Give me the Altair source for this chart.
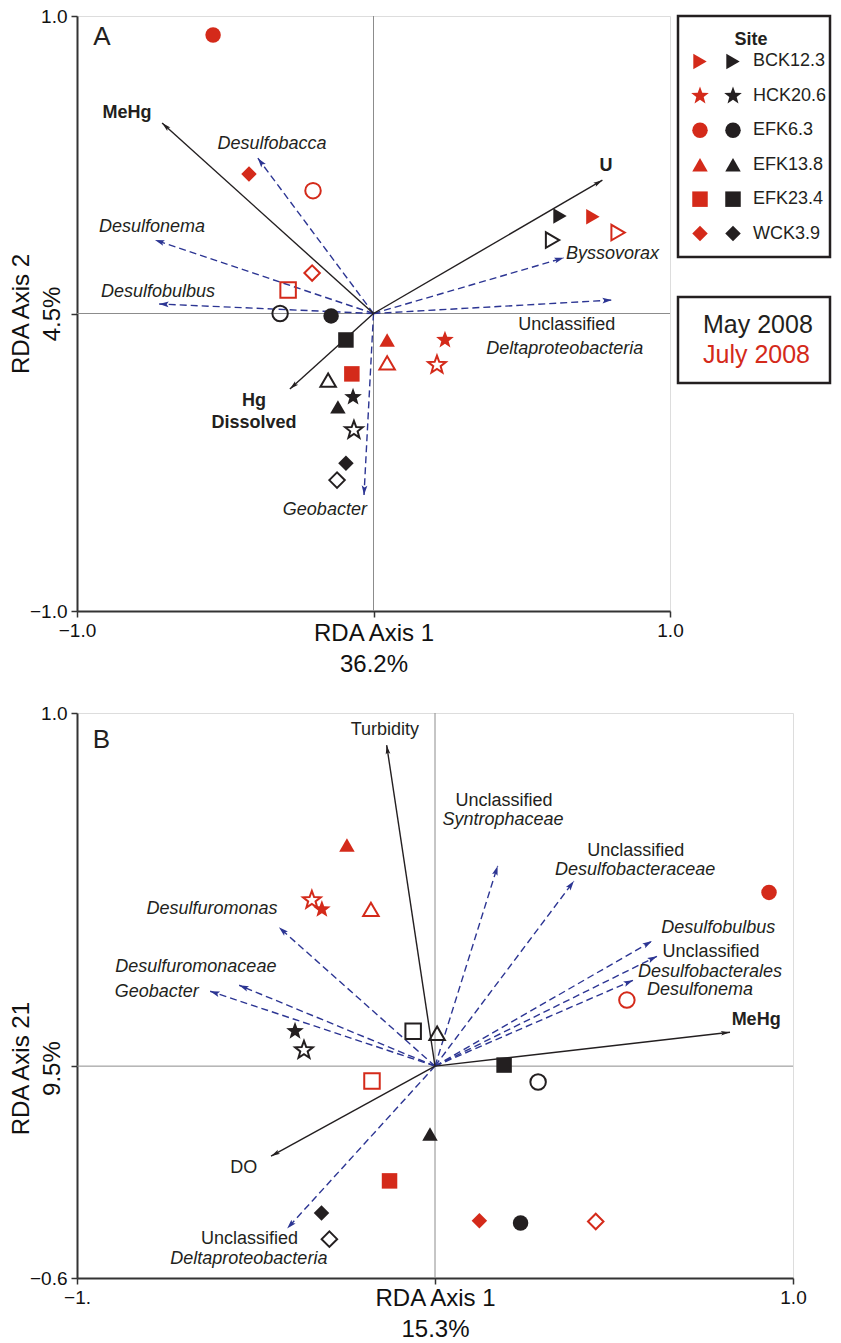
import math
import altair as alt
import pandas as pd

# ---------------- categories ----------------
SITES = ["BCK12.3", "HCK20.6", "EFK6.3", "EFK13.8", "EFK23.4", "WCK3.9"]
MONTHS = ["May 2008", "July 2008"]
HEADER = ["Site"]

# ---------------- Panel A samples ----------------
A_SITE = ["EFK6.3", "WCK3.9", "EFK6.3", "WCK3.9", "EFK23.4", "EFK6.3", "EFK6.3", "EFK23.4",
          "EFK23.4", "EFK13.8", "HCK20.6", "EFK13.8", "HCK20.6", "WCK3.9", "WCK3.9", "EFK13.8",
          "EFK13.8", "HCK20.6", "HCK20.6", "BCK12.3", "BCK12.3", "BCK12.3", "BCK12.3"]
A_MONTH = ["July 2008", "July 2008", "July 2008", "July 2008", "July 2008", "May 2008", "May 2008", "May 2008",
           "July 2008", "May 2008", "May 2008", "May 2008", "May 2008", "May 2008", "May 2008", "July 2008",
           "July 2008", "July 2008", "July 2008", "May 2008", "May 2008", "July 2008", "July 2008"]
A_FILL = ["filled", "filled", "open", "open", "open", "open", "filled", "filled",
          "filled", "open", "filled", "filled", "open", "filled", "open", "filled",
          "open", "filled", "open", "filled", "open", "filled", "open"]
A_X = [-0.541, -0.420, -0.204, -0.207, -0.288, -0.315, -0.143, -0.093,
       -0.073, -0.153, -0.069, -0.120, -0.066, -0.093, -0.123, 0.046,
       0.046, 0.241, 0.214, 0.629, 0.604, 0.740, 0.825]
A_Y = [0.936, 0.469, 0.413, 0.136, 0.079, 0.000, -0.008, -0.089,
       -0.203, -0.224, -0.281, -0.314, -0.392, -0.503, -0.560, -0.089,
       -0.166, -0.089, -0.173, 0.328, 0.247, 0.325, 0.272]

# Panel A vectors
A_VEC_NAME = ["MeHg", "U", "Hg Dissolved", "Desulfobacca", "Desulfonema", "Desulfobulbus",
              "Byssovorax", "Unclassified Deltaproteobacteria", "Geobacter"]
A_VEC_KIND = ["env", "env", "env", "taxon", "taxon", "taxon", "taxon", "taxon", "taxon"]
A_VEC_X = [-0.713, 0.772, -0.282, -0.390, -0.737, -0.723, 0.642, 0.804, -0.032]
A_VEC_Y = [0.640, 0.448, -0.254, 0.522, 0.247, 0.032, 0.187, 0.045, -0.610]

# Panel A labels (anchors in axis units)
A_LAB_TEXT = ["MeHg", "U", "Hg", "Dissolved", "Desulfobacca", "Desulfonema", "Desulfobulbus",
              "Byssovorax", "Unclassified", "Deltaproteobacteria", "Geobacter", "A"]
A_LAB_STYLE = ["bold", "bold", "bold", "bold", "italic", "italic", "italic",
               "italic", "normal", "italic", "italic", "letter"]
A_LAB_X = [-0.831, 0.784, -0.403, -0.403, -0.342, -0.747, -0.727, 0.806, 0.652, 0.645, -0.164, -0.916]
A_LAB_Y = [0.674, 0.496, -0.294, -0.368, 0.570, 0.291, 0.072, 0.200, -0.040, -0.119, -0.661, 0.928]

# ---------------- Panel B samples ----------------
B_SITE = ["EFK6.3", "EFK6.3", "EFK13.8", "HCK20.6", "HCK20.6", "EFK13.8", "EFK23.4", "EFK13.8",
          "HCK20.6", "HCK20.6", "EFK23.4", "EFK23.4", "EFK6.3", "EFK13.8", "EFK23.4", "WCK3.9",
          "WCK3.9", "WCK3.9", "EFK6.3", "WCK3.9"]
B_MONTH = ["July 2008", "July 2008", "July 2008", "July 2008", "July 2008", "July 2008", "May 2008", "May 2008",
           "May 2008", "May 2008", "July 2008", "May 2008", "May 2008", "May 2008", "July 2008", "May 2008",
           "May 2008", "July 2008", "May 2008", "July 2008"]
B_FILL = ["filled", "open", "filled", "open", "filled", "open", "open", "open",
          "filled", "open", "open", "filled", "open", "filled", "filled", "filled",
          "open", "filled", "filled", "open"]
B_X = [0.933, 0.536, -0.246, -0.344, -0.316, -0.179, -0.061, 0.006,
       -0.391, -0.366, -0.176, 0.193, 0.288, -0.014, -0.127, -0.317,
       -0.295, 0.124, 0.239, 0.449]
B_Y = [0.492, 0.187, 0.626, 0.470, 0.444, 0.444, 0.099, 0.093,
       0.099, 0.045, -0.042, 0.003, -0.045, -0.192, -0.325, -0.416,
       -0.490, -0.438, -0.444, -0.440]

# Panel B vectors
B_VEC_NAME = ["Turbidity", "MeHg", "DO", "Unclassified Syntrophaceae", "Unclassified Desulfobacteraceae",
              "Desulfobulbus", "Unclassified Desulfobacterales", "Desulfonema", "Desulfuromonas",
              "Desulfuromonaceae", "Geobacter", "Unclassified Deltaproteobacteria"]
B_VEC_KIND = ["env", "env", "env", "taxon", "taxon", "taxon", "taxon", "taxon", "taxon",
              "taxon", "taxon", "taxon"]
B_VEC_X = [-0.135, 0.824, -0.458, 0.175, 0.388, 0.606, 0.620, 0.553, -0.436, -0.547, -0.628, -0.413]
B_VEC_Y = [0.909, 0.096, -0.255, 0.567, 0.524, 0.354, 0.311, 0.243, 0.393, 0.229, 0.212, -0.460]

# Panel B labels (anchors in axis units)
B_LAB_TEXT = ["Turbidity", "MeHg", "DO", "Unclassified", "Syntrophaceae", "Unclassified",
              "Desulfobacteraceae", "Desulfobulbus", "Unclassified", "Desulfobacterales", "Desulfonema",
              "Desulfuromonas", "Desulfuromonaceae", "Geobacter", "Unclassified", "Deltaproteobacteria", "B"]
B_LAB_STYLE = ["normal", "bold", "normal", "normal", "italic", "normal",
               "italic", "italic", "normal", "italic", "italic",
               "italic", "italic", "italic", "normal", "italic", "letter"]
B_LAB_X = [-0.140, 0.897, -0.534, 0.193, 0.190, 0.561, 0.559, 0.791, 0.771, 0.768, 0.740,
           -0.623, -0.668, -0.777, -0.518, -0.520, -0.932]
B_LAB_Y = [0.951, 0.130, -0.289, 0.750, 0.696, 0.609, 0.555, 0.391, 0.323, 0.266, 0.215,
           0.444, 0.280, 0.209, -0.490, -0.546, 0.923]

# ---------------- styling ----------------
RED = "#d42a1a"
BLACK = "#231f20"
BLUE = "#2c3593"
GREY = "#8c8c8c"
FONT = "Liberation Sans"
PT_SIZE = 240
LAB_SIZE = 18
LEG_W = 152


def star_path(r_out=1.2, r_in=0.5):
    pts = []
    for k in range(10):
        ang = math.radians(-90 + 36 * k)
        r = r_out if k % 2 == 0 else r_in
        pts.append(f"{r * math.cos(ang):.3f},{r * math.sin(ang):.3f}")
    return "M" + "L".join(pts) + "Z"


STAR = star_path()
SHAPES = ["triangle-right", STAR, "circle", "triangle-up", "square", "diamond"]
HEAD_BLACK = "M0,0L-1,-0.26L-0.8,0L-1,0.26Z"
HEAD_BLUE = "M0,0L-1,-0.3L-0.8,0L-1,0.3Z"

shape_scale = alt.Scale(domain=SITES, range=SHAPES)
color_scale = alt.Scale(domain=MONTHS, range=[BLACK, RED])


def make_axis(values, expr, title, title_pos, orient):
    common = dict(values=values, labelExpr=expr, title=title, grid=False, labelFlush=False,
                  labelOverlap=False, labelFontSize=19, labelFont=FONT, labelColor="#111",
                  titleFontSize=24, titleFont=FONT, titleFontWeight="normal", titleColor="#111",
                  titleLineHeight=31, tickSize=6, tickWidth=1.5, tickColor="#333",
                  domainColor="#333", domainWidth=2)
    if orient == "x":
        return alt.Axis(titleY=title_pos, titleBaseline="top", labelPadding=4, **common)
    return alt.Axis(titleX=-44, titleY=title_pos, titleAngle=270, titleAlign="center",
                    titleBaseline="bottom", labelPadding=4, **common)


def panel(pts, vecs, labs, xdom, ydom, w, h, ax_x, ax_y):
    xs = alt.Scale(domain=xdom, nice=False, zero=False)
    ys = alt.Scale(domain=ydom, nice=False, zero=False)
    sx = w / (xdom[1] - xdom[0])
    sy = h / (ydom[1] - ydom[0])
    vecs = vecs.copy()
    vecs["x0"] = 0.0
    vecs["y0"] = 0.0
    vecs["ang"] = [(math.degrees(math.atan2(-yy * sy, xx * sx)) + 360) % 360
                   for xx, yy in zip(vecs["x"], vecs["y"])]

    X = lambda f: alt.X(f, scale=xs, axis=ax_x)
    Y = lambda f: alt.Y(f, scale=ys, axis=ax_y)

    zero = pd.DataFrame({"v": [0.0]})
    zv = alt.Chart(zero).mark_rule(color=GREY, strokeWidth=1).encode(x=X("v:Q"))
    zh = alt.Chart(zero).mark_rule(color=GREY, strokeWidth=1).encode(y=Y("v:Q"))

    vb = alt.Chart(vecs)
    tax = vb.transform_filter("datum.kind == 'taxon'")
    env = vb.transform_filter("datum.kind == 'env'")
    tax_line = tax.mark_rule(color=BLUE, strokeWidth=1.4, strokeDash=[7, 4]).encode(
        x=X("x0:Q"), y=Y("y0:Q"), x2="x:Q", y2="y:Q")
    env_line = env.mark_rule(color=BLACK, strokeWidth=1.4).encode(
        x=X("x0:Q"), y=Y("y0:Q"), x2="x:Q", y2="y:Q")
    tax_head = tax.mark_point(shape=HEAD_BLUE, filled=True, size=360, color=BLUE, opacity=1).encode(
        x=X("x:Q"), y=Y("y:Q"), angle=alt.Angle("ang:Q", scale=None))
    env_head = env.mark_point(shape=HEAD_BLACK, filled=True, size=330, color=BLACK, opacity=1).encode(
        x=X("x:Q"), y=Y("y:Q"), angle=alt.Angle("ang:Q", scale=None))

    lb = alt.Chart(labs).encode(x=X("x:Q"), y=Y("y:Q"), text="text:N")
    t_norm = lb.transform_filter("datum.style == 'normal'").mark_text(
        font=FONT, fontSize=LAB_SIZE, color=BLACK, baseline="middle")
    t_ital = lb.transform_filter("datum.style == 'italic'").mark_text(
        font=FONT, fontSize=LAB_SIZE, fontStyle="italic", color=BLACK, baseline="middle")
    t_bold = lb.transform_filter("datum.style == 'bold'").mark_text(
        font=FONT, fontSize=LAB_SIZE, fontWeight="bold", color=BLACK, baseline="middle")
    t_let = lb.transform_filter("datum.style == 'letter'").mark_text(
        font=FONT, fontSize=26, color=BLACK, baseline="middle")

    pb = alt.Chart(pts).encode(
        x=X("x:Q"), y=Y("y:Q"),
        shape=alt.Shape("site:N", scale=shape_scale, legend=None),
        color=alt.Color("month:N", scale=color_scale, legend=None))
    p_fill = pb.transform_filter("datum.fill == 'filled'").mark_point(filled=True, size=PT_SIZE, opacity=1)
    p_open = pb.transform_filter("datum.fill == 'open'").mark_point(
        filled=False, size=PT_SIZE, strokeWidth=2, opacity=1)

    return alt.layer(zv, zh, tax_line, env_line, tax_head, env_head,
                     t_norm, t_ital, t_bold, t_let, p_fill, p_open).properties(width=w, height=h)


ptsA = pd.DataFrame({"site": A_SITE, "month": A_MONTH, "fill": A_FILL, "x": A_X, "y": A_Y})
vecA = pd.DataFrame({"name": A_VEC_NAME, "kind": A_VEC_KIND, "x": A_VEC_X, "y": A_VEC_Y})
labA = pd.DataFrame({"text": A_LAB_TEXT, "style": A_LAB_STYLE, "x": A_LAB_X, "y": A_LAB_Y})
ptsB = pd.DataFrame({"site": B_SITE, "month": B_MONTH, "fill": B_FILL, "x": B_X, "y": B_Y})
vecB = pd.DataFrame({"name": B_VEC_NAME, "kind": B_VEC_KIND, "x": B_VEC_X, "y": B_VEC_Y})
labB = pd.DataFrame({"text": B_LAB_TEXT, "style": B_LAB_STYLE, "x": B_LAB_X, "y": B_LAB_Y})

WA, HA = 593, 595
WB, HB = 716, 565

axAx = make_axis([-1, 0, 1], "datum.value == 0 ? '' : format(datum.value, '.1f')",
                 ["RDA Axis 1", "36.2%"], 10, "x")
axAy = make_axis([-1, 0, 1], "datum.value == 0 ? '' : format(datum.value, '.1f')",
                 ["RDA Axis 2", "4.5%"], HA / 2, "y")
axBx = make_axis([-1, 0, 1], "datum.value == -1 ? '\u22121.' : (datum.value == 1 ? '1.0' : '')",
                 ["RDA Axis 1", "15.3%"], 8, "x")
axBy = make_axis([-0.6, 0, 1], "datum.value == 0 ? '' : format(datum.value, '.1f')",
                 ["RDA Axis 21", "9.5%"], HB * 1.0 / 1.6 + 2, "y")

chartA = panel(ptsA, vecA, labA, [-1, 1], [-1, 1], WA, HA, axAx, axAy)
chartB = panel(ptsB, vecB, labB, [-1, 1], [-0.6, 1], WB, HB, axBx, axBy)

# ---------------- legends ----------------
leg = pd.DataFrame({"site": SITES})
yL = alt.Scale(type="point", domain=SITES, padding=1.174, align=0.66)
lbase = alt.Chart(leg).encode(
    y=alt.Y("site:N", scale=yL, axis=None),
    shape=alt.Shape("site:N", scale=shape_scale, legend=None))
l_red = lbase.mark_point(filled=True, size=PT_SIZE, color=RED, opacity=1).encode(x=alt.value(22))
l_blk = lbase.mark_point(filled=True, size=PT_SIZE, color=BLACK, opacity=1).encode(x=alt.value(55))
l_txt = alt.Chart(leg).mark_text(align="left", baseline="middle", font=FONT, fontSize=18, color=BLACK).encode(
    x=alt.value(75), y=alt.Y("site:N", scale=yL, axis=None), text="site:N")
l_hdr = alt.Chart(pd.DataFrame({"h": HEADER})).mark_text(
    font=FONT, fontSize=18, fontWeight="bold", color=BLACK, baseline="middle").encode(
    x=alt.value(73), y=alt.value(24), text="h:N")
legend1 = alt.layer(l_hdr, l_red, l_blk, l_txt).properties(
    width=LEG_W, height=241, view=alt.ViewBackground(stroke=BLACK, strokeWidth=2.5))

per = pd.DataFrame({"period": MONTHS})
legend2 = alt.Chart(per).mark_text(align="left", baseline="middle", font=FONT, fontSize=25).encode(
    x=alt.value(25),
    y=alt.Y("period:N", scale=alt.Scale(type="point", domain=MONTHS, padding=0.933), axis=None),
    text="period:N",
    color=alt.Color("period:N", scale=color_scale, legend=None),
).properties(width=LEG_W, height=86, view=alt.ViewBackground(stroke=BLACK, strokeWidth=2.5))

legend_col = alt.vconcat(legend1, legend2, spacing=36)
rowA = alt.hconcat(chartA, legend_col, spacing=8, bounds="flush")

chart = alt.vconcat(rowA, chartB, spacing=26,
                    padding={"left": 0, "top": -2, "right": 0, "bottom": 0}).configure_view(
    stroke="#333", strokeWidth=1.5
).configure(font=FONT)

chart.save("out.html", embed_options={"renderer": "svg", "actions": False})
